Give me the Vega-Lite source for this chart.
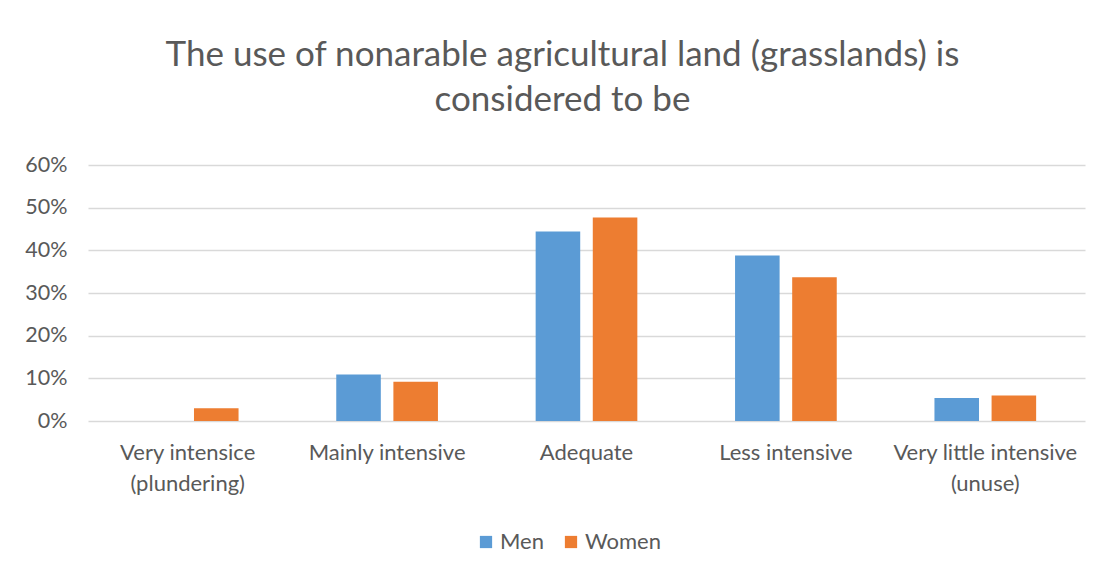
{
  "$schema": "https://vega.github.io/schema/vega-lite/v6.json",
  "autosize": "none",
  "width": 997,
  "height": 256,
  "padding": {"left": 88, "top": 165, "right": 30, "bottom": 160},
  "background": "white",
  "title": {
    "text": ["The use of nonarable agricultural land (grasslands) is", "considered to be"],
    "font": "Lato",
    "fontSize": 35,
    "fontWeight": "normal",
    "color": "#595959",
    "lineHeight": 45,
    "anchor": "middle",
    "dx": -24,
    "offset": 36
  },
  "data": {
    "values": [
      {"category": "Very intensice (plundering)", "gender": "Men", "share": 0.0},
      {"category": "Very intensice (plundering)", "gender": "Women", "share": 0.030},
      {"category": "Mainly intensive", "gender": "Men", "share": 0.109},
      {"category": "Mainly intensive", "gender": "Women", "share": 0.092},
      {"category": "Adequate", "gender": "Men", "share": 0.444},
      {"category": "Adequate", "gender": "Women", "share": 0.477},
      {"category": "Less intensive", "gender": "Men", "share": 0.388},
      {"category": "Less intensive", "gender": "Women", "share": 0.337},
      {"category": "Very little intensive (unuse)", "gender": "Men", "share": 0.054},
      {"category": "Very little intensive (unuse)", "gender": "Women", "share": 0.060}
    ]
  },
  "mark": {"type": "bar"},
  "encoding": {
    "x": {
      "field": "category",
      "type": "nominal",
      "sort": ["Very intensice (plundering)", "Mainly intensive", "Adequate", "Less intensive", "Very little intensive (unuse)"],
      "scale": {"paddingInner": 0.49, "paddingOuter": 0.245},
      "axis": {
        "title": null,
        "labelAngle": 0,
        "domain": false,
        "ticks": false,
        "grid": false,
        "labelFont": "Lato",
        "labelFontSize": 22,
        "labelColor": "#595959",
        "labelPadding": 21,
        "labelLineHeight": 31,
        "labelLimit": 300,
        "labelBaseline": "top",
        "labelExpr": "datum.value == 'Very intensice (plundering)' ? ['Very intensice', '(plundering)'] : datum.value == 'Very little intensive (unuse)' ? ['Very little intensive', '(unuse)'] : datum.value"
      }
    },
    "xOffset": {
      "field": "gender",
      "type": "nominal",
      "sort": ["Men", "Women"],
      "scale": {"paddingInner": 0.22, "paddingOuter": 0}
    },
    "y": {
      "field": "share",
      "type": "quantitative",
      "scale": {"domain": [0, 0.6], "nice": false},
      "axis": {
        "title": null,
        "values": [0, 0.1, 0.2, 0.3, 0.4, 0.5, 0.6],
        "format": ".0%",
        "domain": false,
        "ticks": false,
        "grid": true,
        "gridColor": "#D9D9D9",
        "gridWidth": 1.3,
        "labelFont": "Lato",
        "labelFontSize": 21.5,
        "labelColor": "#595959",
        "labelPadding": 21
      }
    },
    "color": {
      "field": "gender",
      "type": "nominal",
      "sort": ["Men", "Women"],
      "scale": {"domain": ["Men", "Women"], "range": ["#5B9BD5", "#ED7D31"]},
      "legend": {
        "title": null,
        "orient": "none",
        "direction": "horizontal",
        "legendX": 387,
        "legendY": 366,
        "symbolType": "square",
        "symbolSize": 150,
        "symbolStrokeWidth": 0,
        "labelFont": "Lato",
        "labelFontSize": 22,
        "labelColor": "#595959",
        "labelOffset": 3,
        "columnPadding": 16
      }
    }
  },
  "config": {
    "view": {"stroke": null}
  }
}
